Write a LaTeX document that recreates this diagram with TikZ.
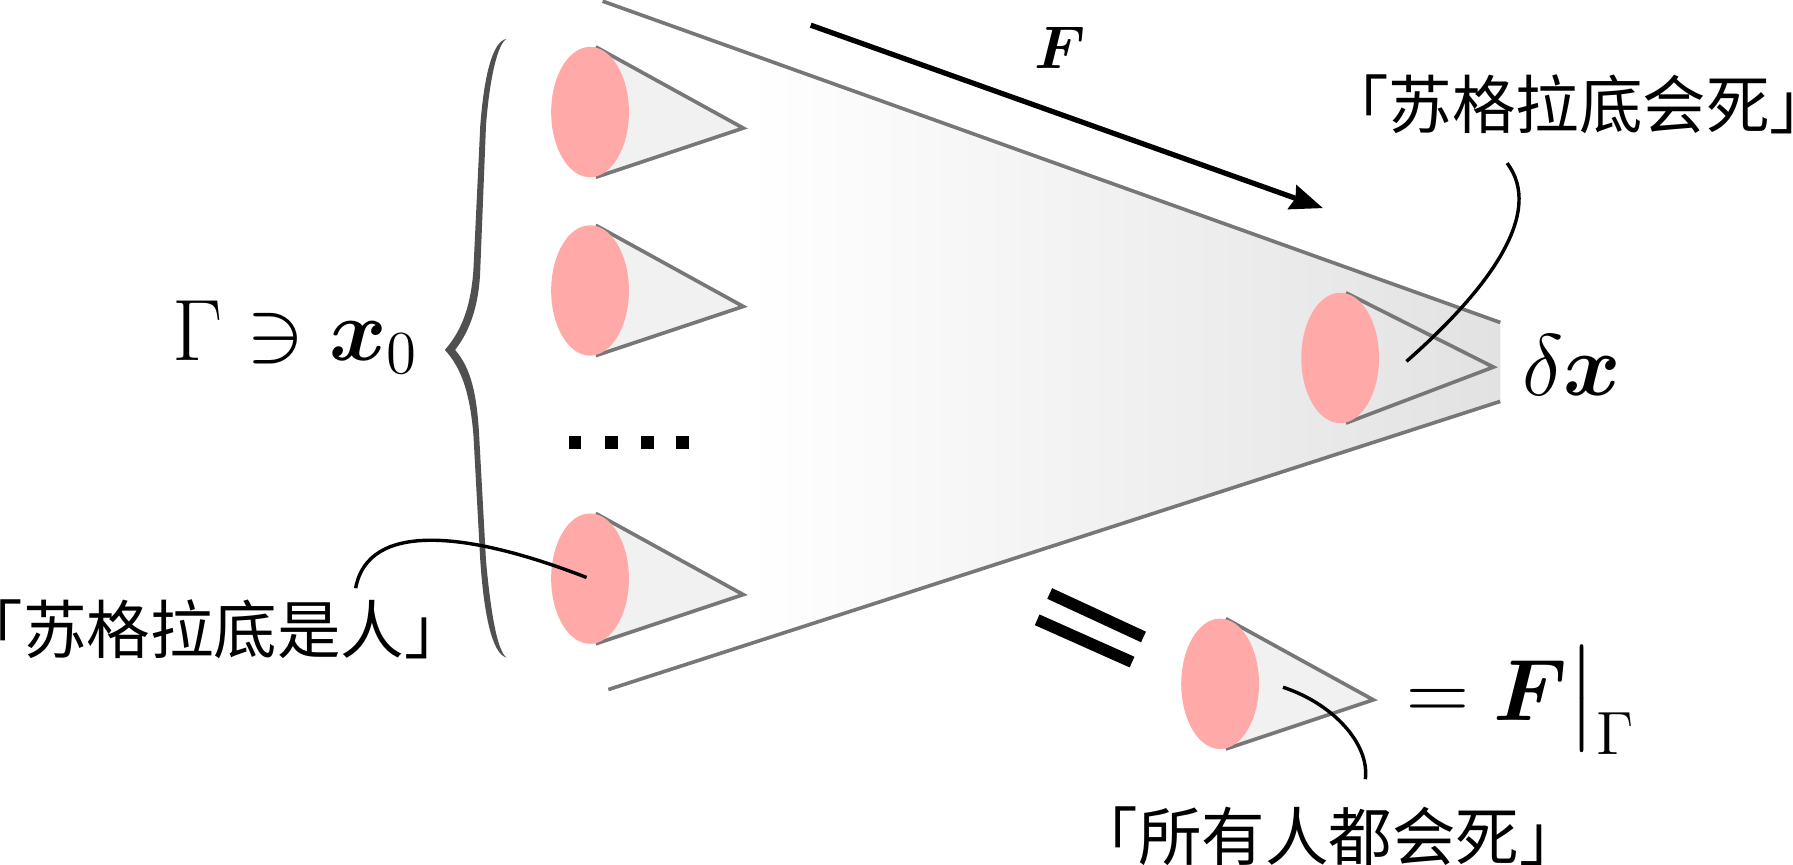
\documentclass[tikz,border=0pt]{standalone}
\usepackage{fix-cm}
\usepackage{amsmath,amssymb}
\usepackage{fontspec}
\newfontfamily\cjk{Noto Sans CJK SC}
\usetikzlibrary{arrows.meta,calc,positioning}

\definecolor{conepink}{HTML}{FFA9A9}
\definecolor{conelight}{HTML}{F1F1F1}
\definecolor{wedgeline}{HTML}{777777}
\definecolor{bracegray}{HTML}{505050}
\definecolor{wedgegray}{HTML}{E2E2E2}
\pgfdeclarehorizontalshading{wedgefade}{100bp}{color(0bp)=(white); color(33bp)=(white); color(75bp)=(wedgegray); color(100bp)=(wedgegray)}

\tikzset{
  edgeline/.style={draw=wedgeline, line width=0.9pt},
  leader/.style={black, line width=0.85pt},
  cjklabel/.style={inner sep=0pt, font=\fontsize{15.8}{19}\selectfont\cjk},
  mathlabel/.style={inner sep=0pt, font=\fontsize{21.7}{26}\selectfont},
  dotbox/.style={fill=black, inner sep=0pt, minimum size=0.11cm},
  conefill/.style={fill=conelight},
  cone/.pic={
    \path[conefill] (5,-57) -- (134,#1) -- (5,57) -- cycle;
    \draw[edgeline] (5,-57) -- (134,#1) -- (5,57);
    \fill[conepink] (0,0) ellipse (34 and 57);
  },
}

\begin{document}
\begin{tikzpicture}[x=0.01cm,y=-0.01cm]
  \useasboundingbox (0,0) rectangle (1568,756);
  % wedge
  \shade[shading=wedgefade] (527,1) -- (1312,282) -- (1312,351) -- (532,603) -- cycle;
  \draw[edgeline] (527,1) -- (1312,282);
  \draw[edgeline] (532,603) -- (1312,351);
  % cones
  \foreach \y in {98,254,506}
    \pic at (516,\y) {cone=14};
  \pic[conefill/.style={fill=none}] at (1172,313) {cone=8};
  \pic at (1067,598) {cone=14};
  % dots
  \foreach \x in {503,535,566,597}
    \node[dotbox] at (\x,387) {};
  % brace
  \fill[bracegray] (443,34) .. controls (430,36) and (423,70) .. (420,110) -- (414,236)
    .. controls (412,265) and (405,288) .. (389,306)
    .. controls (404,322) and (411,345) .. (414,380) -- (420,490)
    .. controls (423,535) and (430,572) .. (443,575)
    .. controls (435,570) and (429,535) .. (425,490) -- (419,380)
    .. controls (417,345) and (412,322) .. (398,306)
    .. controls (412,288) and (419,265) .. (420,236) -- (425,110)
    .. controls (428,70) and (435,38) .. (443,34) -- cycle;
  % arrow and equal bars
  \coordinate (flowa) at (709,22);
  \coordinate (flowb) at (1157,182);
  \draw[line width=1.3pt, -{Stealth[length=0.285cm,width=0.22cm,inset=0.03cm]}] (flowa) -- (flowb);
  \coordinate (eqa) at (918,519);
  \coordinate (eqb) at (1000,557);
  \coordinate (eqc) at (907,542);
  \coordinate (eqd) at (990,579);
  \draw[line width=2.9pt] (eqa) -- (eqb);
  \draw[line width=2.9pt] (eqc) -- (eqd);
  % labels
  \node[mathlabel, anchor=base west] (gamma) at (150,315) {$\Gamma\ni\boldsymbol{x}_0$};
  \node[mathlabel, anchor=base west] (deltax) at (1331,346) {$\delta\boldsymbol{x}$};
  \node[mathlabel, anchor=base west] (restr) at (1229,630) {$=\boldsymbol{F}\big|_{\Gamma}$};
  \node[inner sep=0pt, font=\fontsize{15}{18}\selectfont] (flabel) at (927,42) {$\boldsymbol{F}$};
  \node[cjklabel] (man) at (187,550) {「苏格拉底是人」};
  \node[cjklabel] (dies) at (1381,91) {「苏格拉底会死」};
  \node[cjklabel] (all) at (1162,731) {「所有人都会死」};
  % leaders
  \coordinate (mana) at ($(man.north)+(124,-9)$);
  \coordinate (manb) at (513,505);
  \draw[leader] (mana) .. controls (322,455) and (410,465) .. (manb);
  \coordinate (diesa) at ($(dies.south)+(-63,25)$);
  \coordinate (diesb) at (1230,316);
  \draw[leader] (diesa) .. controls (1350,185) and (1305,250) .. (diesb);
  \coordinate (alla) at ($(all.north)+(32,-23)$);
  \coordinate (allb) at (1122,601);
  \draw[leader] (alla) .. controls (1198,650) and (1165,615) .. (allb);
\end{tikzpicture}
\end{document}
